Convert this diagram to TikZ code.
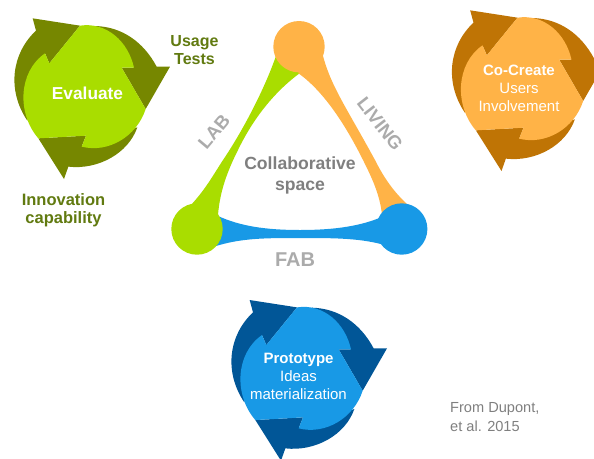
\documentclass[tikz,border=0pt]{standalone}
\usepackage{fontspec}
\setmainfont{Liberation Sans}
\definecolor{greenlight}{HTML}{A9DD00}
\definecolor{greendark}{HTML}{768700}
\definecolor{greentext}{HTML}{617A10}
\definecolor{orangelight}{HTML}{FFB347}
\definecolor{orangedark}{HTML}{BF7405}
\definecolor{bluelight}{HTML}{1899E6}
\definecolor{bluedark}{HTML}{015697}
\definecolor{greytext}{HTML}{7F7F7F}
\definecolor{greylabel}{HTML}{ABABAB}
\tikzset{
	bigtext/.style={font=\fontsize{16.5}{18.5}\selectfont\bfseries,align=center,inner sep=0pt},
	cycletext/.style={font=\fontsize{15}{18}\selectfont,align=center,inner sep=0pt,text=white},
	sidelabel/.style={font=\fontsize{18.5}{22}\selectfont\bfseries,text=greylabel,inner sep=0pt},
}
\begin{document}
\begin{tikzpicture}[x=1pt,y=-1pt,line join=round,line cap=round]
	\useasboundingbox (0,0) rectangle (594,458);
	\clip (0,0) rectangle (594,458);
	% the three cycles, same outline in each
	\foreach \dx/\dy/\cdark/\clight in {0/0/greendark/greenlight,437.5/-8/orangedark/orangelight,217/281.7/bluedark/bluelight}{
		\begin{scope}[shift={(\dx,\dy)},scale=1/3]
			\fill[color=\cdark] (98,55)--(240,77)--(148,190)--(135,160)--(82,362) .. controls (20,270) and (35,160) .. (108,92)--cycle;
			\fill[color=\cdark] (285,78) .. controls (365,80) and (430,125) .. (470,200)--(510,200)--(437,327)--(365,203)--(402,203)--cycle;
			\fill[color=\cdark] (115,415)--(258,407)--(245,440)--(412,382) .. controls (385,460) and (295,510) .. (205,500)--(192,537)--cycle;
			\fill[color=\clight] (240,77) .. controls (320,65) and (385,125) .. (402,203)--(365,203)--(437,327) .. controls (410,410) and (325,460) .. (245,440)--(258,407)--(115,415) .. controls (50,340) and (55,215) .. (135,160)--(148,190)--cycle;
		\end{scope}
	}
	% triangle
	\fill[color=greenlight] (278,50) .. controls (265,90) and (240,135) .. (223,160) .. controls (212,177) and (205,190) .. (190,206)--(218,215) .. controls (220,190) and (228,170) .. (238,150) .. controls (250,125) and (270,95) .. (300,73)--cycle;
	\fill[color=orangelight] (322,52) .. controls (330,85) and (345,105) .. (375,160) .. controls (385,180) and (395,193) .. (408,205)--(382,215) .. controls (380,195) and (372,178) .. (363,160) .. controls (347,128) and (325,92) .. (298,73)--cycle;
	\fill[color=bluelight] (218,216) .. controls (240,226) and (265,230) .. (300,230) .. controls (335,230) and (362,226) .. (384,216)--(388,246) .. controls (362,238) and (335,238) .. (300,238) .. controls (265,238) and (240,238) .. (213,247)--cycle;
	\fill[color=orangelight] (299,46.7) circle(25.7);
	\fill[color=greenlight] (197,229) circle(25.7);
	\fill[color=bluelight] (401.7,229) circle(25.7);
	\node[bigtext,text=greentext,font=\fontsize{16}{18.5}\selectfont\bfseries] (usage) at (194.5,50) {Usage\\Tests};
	\node[bigtext,text=greentext] (innovation) at (63.5,210) {Innovation\\capability};
	\node[bigtext,text=white,font=\fontsize{17.3}{19}\selectfont\bfseries] (evaluate) at (87.5,93) {Evaluate};
	\node[cycletext] (cocreate) at (519,88) {{\bfseries Co-Create}\\Users\\Involvement};
	\node[cycletext] (prototype) at (298.5,376.5) {{\bfseries Prototype}\\Ideas\\materialization};
	\node[bigtext,text=greytext,font=\fontsize{17.6}{20.7}\selectfont\bfseries] (space) at (300,175.5) {Collaborative\\space};
	\node[sidelabel,rotate=50] (lab) at (214,132) {LAB};
	\node[sidelabel,rotate=-52] (living) at (380,124) {LIVING};
	\node[sidelabel,font=\fontsize{20}{22}\selectfont\bfseries] (fab) at (295,260) {FAB};
	\node[font=\fontsize{14.6}{19}\selectfont,align=left,text=greytext,inner sep=0pt,anchor=west] (source) at (450,417) {From Dupont,\\et al. 2015};
\end{tikzpicture}
\end{document}
